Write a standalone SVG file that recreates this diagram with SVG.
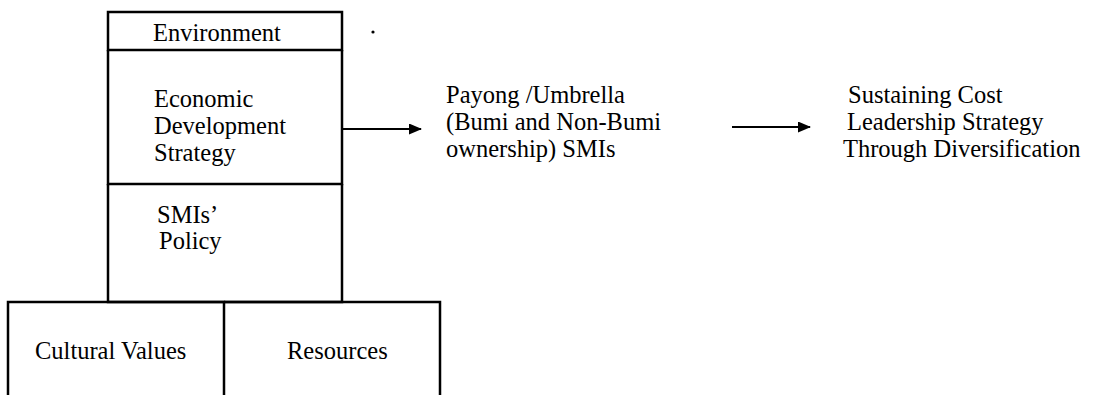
<svg xmlns="http://www.w3.org/2000/svg" width="1094" height="395" viewBox="0 0 1094 395">
  <style>
    .box { fill: none; stroke: #000; stroke-width: 2.5; }
    .conn { fill: none; stroke: #000; stroke-width: 2.2; }
    .lbl { font-family: 'Liberation Serif', 'Times New Roman', 'DejaVu Serif', serif; font-size: 24.5px; fill: #000; }
  </style>
  <defs>
    <marker id="arrow" viewBox="0 0 13 11" refX="12" refY="5.5" markerWidth="13" markerHeight="11" markerUnits="userSpaceOnUse" orient="auto">
      <path d="M0,0 L13,5.5 L0,11 z" fill="#000"/>
    </marker>
  </defs>

  <!-- stacked column: environment / strategy / policy -->
  <g id="environment">
    <path class="box" d="M108,12 H342 V50 H108 Z"/>
    <text class="lbl" x="153" y="41">Environment</text>
  </g>
  <g id="economic-development-strategy">
    <path class="box" d="M108,50 V184 H342 V50"/>
    <text class="lbl" x="154" y="107">Economic</text>
    <text class="lbl" x="154" y="134">Development</text>
    <text class="lbl" x="154" y="161">Strategy</text>
  </g>
  <g id="smis-policy">
    <path class="box" d="M108,184 V302 H342 V184"/>
    <text class="lbl" x="157" y="223">SMIs’</text>
    <text class="lbl" x="159" y="249">Policy</text>
  </g>

  <!-- base: two open-bottomed boxes -->
  <g id="cultural-values">
    <path class="box" d="M8,395 V302 H224 V395"/>
    <text class="lbl" x="35" y="359">Cultural Values</text>
  </g>
  <g id="resources">
    <path class="box" d="M224,302 H440 V395"/>
    <text class="lbl" x="287" y="359">Resources</text>
  </g>

  <!-- stray mark beside the column -->
  <circle cx="373" cy="32" r="1.6" fill="#000"/>

  <g id="payong-smis">
    <text class="lbl" x="446" y="103">Payong /Umbrella</text>
    <text class="lbl" x="446" y="130">(Bumi and Non-Bumi</text>
    <text class="lbl" x="446" y="157">ownership) SMIs</text>
  </g>

  <g id="cost-leadership">
    <text class="lbl" x="848" y="103">Sustaining Cost</text>
    <text class="lbl" x="847" y="130">Leadership Strategy</text>
    <text class="lbl" x="843" y="157">Through Diversification</text>
  </g>

  <g id="connectors">
    <line class="conn" x1="343" y1="129" x2="421" y2="129" marker-end="url(#arrow)"/>
    <line class="conn" x1="732" y1="127" x2="810" y2="127" marker-end="url(#arrow)"/>
  </g>
</svg>
